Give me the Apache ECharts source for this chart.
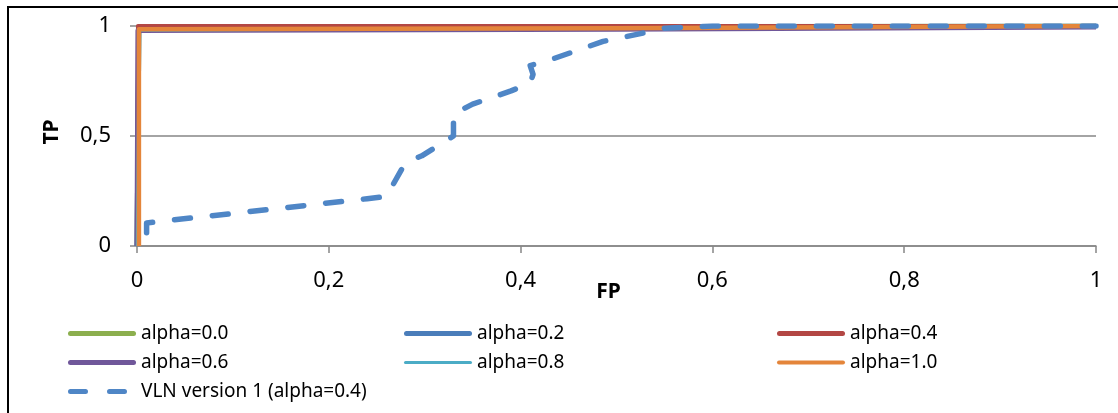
<!DOCTYPE html>
<html>
<head>
<meta charset="utf-8">
<script src="https://cdn.jsdelivr.net/npm/echarts@6/dist/echarts.min.js"></script>
<style>html,body{margin:0;padding:0;background:#fff}#c{width:1118px;height:413px}</style>
</head>
<body>
<div id="c"></div>
<script>
// ---- data ----
var seriesNames = ['alpha=0.0','alpha=0.2','alpha=0.4','alpha=0.6','alpha=0.8','alpha=1.0','VLN version 1 (alpha=0.4)'];
var alpha00 = [[0,0],[0.002,0.99],[0.2,0.995],[1,1]];
var alpha02 = [[0,0],[0.002,0.99],[0.5,0.995],[1,1]];
var alpha04 = [[0,0],[0.001,1],[1,1]];
var alpha06 = [[0,0],[0.001,0.98],[0.5,0.985],[1,0.995]];
var alpha08 = [[0,0],[0.002,0.98],[1,1]];
var alpha10 = [[0.002,0],[0.002,0.985],[0.5,0.99],[1,1]];
var vln1 = [[0.01,0.06],[0.01,0.105],[0.24,0.215],[0.26,0.225],[0.28,0.38],[0.297,0.41],[0.33,0.5],[0.33,0.6],[0.35,0.645],[0.39,0.705],[0.41,0.74],[0.413,0.78],[0.41,0.82],[0.43,0.845],[0.486,0.93],[0.528,0.968],[0.55,0.99],[0.6,1],[1,1]];
var xTicks = [0,0.2,0.4,0.6,0.8,1];
var yTicks = [0,0.5,1];

var colors = ['#8CAF4E','#4A7DBA','#B34744','#70579A','#4BACC6','#E4853A','#4F86C6'];
var widths = [5,5,4,5,2.5,4.5,5.5];
var datas = [alpha00,alpha02,alpha04,alpha06,alpha08,alpha10,vln1];

// legend icons (line samples), 68 x 5 box
var ICON_THICK = 'path://M2.5,0H65.5A2.5,2.5 0 0 1 65.5,5H2.5A2.5,2.5 0 0 1 2.5,0Z';
var ICON_MED = 'path://M0,0M2,0.5H66A2,2 0 0 1 66,4.5H2A2,2 0 0 1 2,0.5ZM68,5';
var ICON_THIN = 'path://M0,0M1.5,1H66.5A1.5,1.5 0 0 1 66.5,4H1.5A1.5,1.5 0 0 1 1.5,1ZM68,5';
var ICON_DASH = 'path://M0,0M2.5,0H17.5A2.5,2.5 0 0 1 17.5,5H2.5A2.5,2.5 0 0 1 2.5,0ZM41.5,0H56.5A2.5,2.5 0 0 1 56.5,5H41.5A2.5,2.5 0 0 1 41.5,0ZM68,5';
var icons = [ICON_THICK,ICON_THICK,ICON_THICK,ICON_THICK,ICON_THIN,ICON_MED,ICON_DASH];

var series = datas.map(function(d,i){
  return {
    name: seriesNames[i], type:'line', data:d, symbol:'none', showSymbol:false,
    animation:false,
    lineStyle:{color:colors[i], width:widths[i], type: i===6 ? [16,22] : 'solid', cap: i===6 ? 'round':'butt', join:'round'},
    itemStyle:{color:colors[i]}
  };
});

var fmt = function(v){ return String(v).replace('.', ','); };
var legendText = {fontFamily:'Noto Sans', fontSize:19, color:'#000'};
function mkLegend(idx, left){
  return {data:idx.map(function(k){return {name:seriesNames[k], icon:icons[k]};}),
    left:left, top:324, orient:'vertical', itemWidth:68, itemHeight:5, itemGap:10, padding:0,
    textStyle:legendText, selectedMode:false};
}

var chart = echarts.init(document.getElementById('c'), null, {renderer:'canvas'});
chart.setOption({
  animation:false,
  backgroundColor:'#fff',
  grid:{left:137, right:22, top:26, bottom:167, containLabel:false},
  xAxis:{type:'value', min:0, max:1, interval:0.2,
    name:'FP', nameLocation:'middle', nameGap:36, nameMoveOverlap:false,
    nameTextStyle:{fontFamily:'Noto Sans', fontSize:21, fontWeight:'bold', color:'#000', padding:[0,16,0,0]},
    axisLine:{show:true, lineStyle:{color:'#868686', width:1.5}},
    axisTick:{show:true, length:7, inside:false, lineStyle:{color:'#868686', width:1.5}},
    axisLabel:{margin:24, fontFamily:'Noto Sans', fontSize:22, color:'#000', formatter:function(v){return fmt(v);}},
    splitLine:{show:false}},
  yAxis:{type:'value', min:0, max:1, interval:0.5,
    name:'TP', nameLocation:'middle', nameGap:74, nameRotate:90, nameMoveOverlap:false,
    nameTextStyle:{fontFamily:'Noto Sans', fontSize:21, fontWeight:'bold', color:'#000', padding:[0,0,0,8]},
    axisLine:{show:true, lineStyle:{color:'#868686', width:1.5}},
    axisTick:{show:true, length:7, inside:false, lineStyle:{color:'#868686', width:1.5}},
    axisLabel:{margin:26, fontFamily:'Noto Sans', fontSize:22, color:'#000', formatter:function(v){return fmt(v);}},
    splitLine:{show:true, lineStyle:{color:'#868686', width:1.5}}},
  legend:[
    mkLegend([0,3,6], 68),
    mkLegend([1,4], 404),
    mkLegend([2,5], 777)
  ],
  graphic:[{type:'rect', shape:{x:8, y:7, width:1300, height:600}, style:{fill:'none', stroke:'#000', lineWidth:2}, silent:true, z:100}],
  series:series
});
</script>
</body>
</html>
